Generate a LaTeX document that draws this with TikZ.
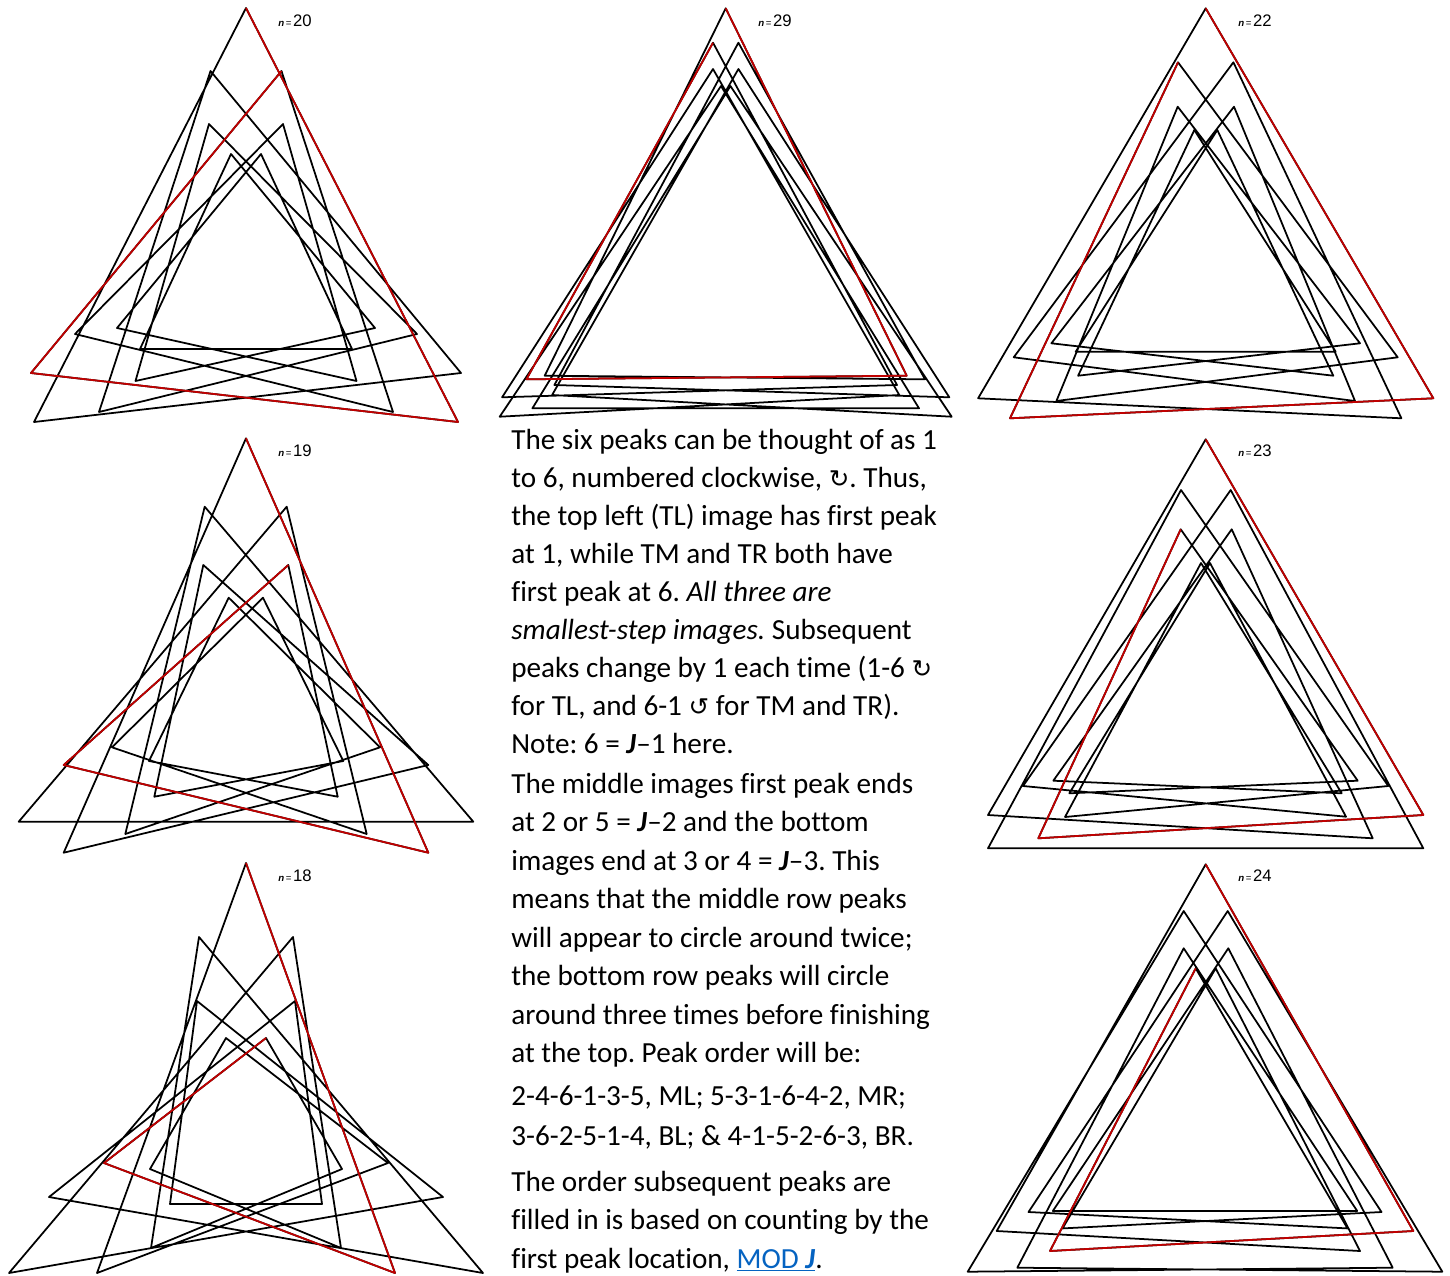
\documentclass[tikz,border=0pt]{standalone}
\usepackage{fontspec}
\setmainfont{Carlito}[Ligatures=NoCommon]
\newfontfamily\labelfont{Liberation Sans}
\newfontfamily\arrowfont{DejaVu Sans}
\definecolor{firstred}{RGB}{192,0,0}
\definecolor{linkblue}{RGB}{5,99,193}

\tikzset{
  trace/.style={line width=1pt, line join=round},
  firstrun/.style={trace, draw=firstred},
  nlabel/.style={anchor=base west, inner sep=0pt, font=\labelfont\fontsize{9.5}{9.5}\selectfont},
  bodyline/.style={anchor=base west, inner sep=0pt, font=\fontsize{16.6}{20}\selectfont},
}
\newcommand{\nis}[1]{{\fontsize{5.5}{5.5}\selectfont\textbf{\textit{n}}\,=\,}#1}
\newcommand{\bj}{\textbf{\textit{J}}}
\newcommand{\turn}[1]{{\arrowfont\fontsize{14}{14}\selectfont #1}}
\frenchspacing

\begin{document}
\begin{tikzpicture}[x=0.02cm,y=-0.02cm]
\useasboundingbox (0,0) rectangle (1450,1275);

% top left, n = 20
\draw[trace] (246,8) -- (458,422) -- (31,373) -- (281.5,71) -- (393,412) -- (75,334) -- (283,124) -- (356.5,381) -- (117,328) -- (261,154) -- (352,349) -- (140,349) -- (231,154) -- (375,328) -- (135.5,381) -- (209,124) -- (417,334) -- (99,412) -- (210.5,71) -- (461,373) -- (34,422) -- cycle;
\draw[firstrun] (246,8) -- (458,422) -- (31,373) -- (281.5,71);
\node[nlabel] (labTL) at (278,26.5) {\nis{20}};

% top middle, n = 29
\draw[trace] (725.7,8.3) -- (906.7,375.7) -- (526.4,379.3) -- (713,42.7) -- (897,385) -- (502.1,397.3) -- (713,69) -- (899.3,395) -- (499.7,416.7) -- (721,86) -- (919,408.3) -- (532.4,408.3) -- (730.4,86) -- (951.7,416.7) -- (552.1,395) -- (738.4,69) -- (949.3,397.3) -- (554.4,385) -- (738.4,42.7) -- (925,379.3) -- (544.7,375.7) -- cycle;
\draw[firstrun] (725.7,8.3) -- (906.7,375.7) -- (526.4,379.3) -- (713,42.7);
\node[nlabel] (labTM) at (758,26.5) {\nis{29}};

% top right, n = 22
\draw[trace] (1205.7,8.3) -- (1433.3,398.3) -- (1010,418.3) -- (1178,62.3) -- (1397.7,357.3) -- (1056.4,401) -- (1177.7,106.7) -- (1360,343.3) -- (1078.1,375.7) -- (1194.3,130) -- (1335.7,351.7) -- (1075.7,351.7) -- (1217.3,130) -- (1333.3,375.7) -- (1051.4,343.3) -- (1234,106.7) -- (1355,401) -- (1013.7,357.3) -- (1233.4,62.3) -- (1401.4,418.3) -- (978.1,398.3) -- cycle;
\draw[firstrun] (1205.7,8.3) -- (1433.3,398.3) -- (1010,418.3) -- (1178,62.3);
\node[nlabel] (labTR) at (1238,26.5) {\nis{22}};

% middle left, n = 19
\draw[trace] (246,438.3) -- (428.3,852.7) -- (63.7,765) -- (288.3,565) -- (337.7,796.7) -- (149,761) -- (228.7,597.7) -- (380,747.3) -- (125.3,834) -- (204.7,506.7) -- (473.3,821.7) -- (18.7,821.7) -- (286.7,506.7) -- (366.7,834) -- (112,747.3) -- (263,597.7) -- (343.3,761) -- (154.3,796.7) -- (203.3,565) -- (428.3,765) -- (63.7,852.7) -- cycle;
\draw[firstrun] (246,438.3) -- (428.3,852.7) -- (63.7,765) -- (288.3,565);
\node[nlabel] (labML) at (278,456.5) {\nis{19}};

% middle right, n = 23
\draw[trace] (1205.7,439.3) -- (1423.3,815) -- (1038.3,838.3) -- (1180.7,529.3) -- (1357.7,780.7) -- (1069.3,793.3) -- (1210,563) -- (1346,816.7) -- (1023,786) -- (1230.7,490) -- (1423.3,848.3) -- (988,848.3) -- (1181,490) -- (1388.3,786) -- (1065,817) -- (1201,563) -- (1341.7,793.3) -- (1053.3,780.7) -- (1231.7,529.3) -- (1372.7,838.3) -- (988,815) -- cycle;
\draw[firstrun] (1205.7,439.3) -- (1423.3,815) -- (1038.3,838.3) -- (1180.7,529.3);
\node[nlabel] (labMR) at (1238,456.5) {\nis{23}};

% bottom left, n = 18
\draw[trace] (246,863) -- (395,1273) -- (104,1163) -- (266,1038) -- (342,1169) -- (151,1248) -- (199,937) -- (483,1273) -- (49,1197) -- (295,1001) -- (322,1204) -- (170,1204) -- (197,1001) -- (443,1197) -- (9,1273) -- (293,937) -- (341,1248) -- (150,1169) -- (226,1038) -- (388,1163) -- (97,1273) -- cycle;
\draw[firstrun] (246,863) -- (395,1273) -- (104,1163) -- (266,1038);
\node[nlabel] (labBL) at (278,881.5) {\nis{18}};

% bottom right, n = 24
\draw[trace] (1205.7,864.3) -- (1413.3,1231) -- (1050,1251) -- (1195.7,968.3) -- (1347.5,1228.4) -- (1028.5,1212) -- (1227.7,911) -- (1442.3,1271.7) -- (1017.3,1267.7) -- (1183.7,948.3) -- (1357.2,1211) -- (1052.8,1211) -- (1228.3,948.3) -- (1392.7,1267.7) -- (967.7,1271.7) -- (1183.7,911) -- (1381.5,1212) -- (1062.5,1228.4) -- (1215.7,968.3) -- (1360,1251) -- (996.7,1231) -- cycle;
\draw[firstrun] (1205.7,864.3) -- (1413.3,1231) -- (1050,1251) -- (1195.7,968.3);
\node[nlabel] (labBR) at (1238,881.5) {\nis{24}};

% explanation
\node[bodyline] (t1) at (511,449) {The six peaks can be thought of as 1};
\node[bodyline] (t2) at (511,487) {to 6, numbered clockwise, \turn{↻}. Thus,};
\node[bodyline] (t3) at (511,525) {the top left (TL) image has first peak};
\node[bodyline] (t4) at (511,563) {at 1, while TM and TR both have};
\node[bodyline] (t5) at (511,601) {first peak at 6. \textit{All three are}};
\node[bodyline] (t6) at (511,639) {\textit{smallest-step images.} Subsequent};
\node[bodyline] (t7) at (511,677) {peaks change by 1 each time (1-6 \turn{↻}};
\node[bodyline] (t8) at (511,715) {for TL, and 6-1 \turn{↺} for TM and TR).};
\node[bodyline] (t9) at (511,753) {Note: 6 = \bj--1 here.};
\node[bodyline] (t10) at (511,793) {The middle images first peak ends};
\node[bodyline] (t11) at (511,831.5) {at 2 or 5 = \bj--2 and the bottom};
\node[bodyline] (t12) at (511,870) {images end at 3 or 4 = \bj--3. This};
\node[bodyline] (t13) at (511,908.5) {means that the middle row peaks};
\node[bodyline] (t14) at (511,947) {will appear to circle around twice;};
\node[bodyline] (t15) at (511,985.5) {the bottom row peaks will circle};
\node[bodyline] (t16) at (511,1024) {around three times before finishing};
\node[bodyline] (t17) at (511,1062.5) {at the top. Peak order will be:};
\node[bodyline] (t18) at (511,1105) {2-4-6-1-3-5, ML; 5-3-1-6-4-2, MR;};
\node[bodyline] (t19) at (511,1145) {3-6-2-5-1-4, BL; \& 4-1-5-2-6-3, BR.};
\node[bodyline] (t20) at (511,1191) {The order subsequent peaks are};
\node[bodyline] (t21) at (511,1229) {filled in is based on counting by the};
\node[bodyline] (t22) at (511,1268) {first peak location, {\color{linkblue}\underline{MOD \bj}}.};
\end{tikzpicture}
\end{document}
